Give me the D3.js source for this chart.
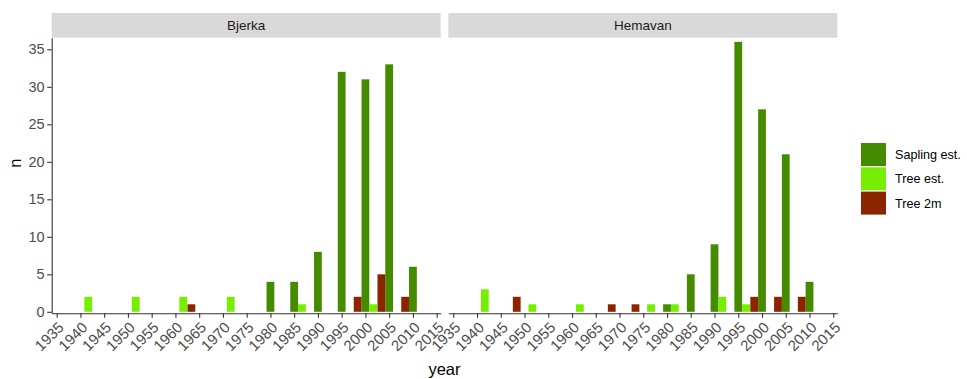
<!DOCTYPE html>
<html>
<head>
<meta charset="utf-8">
<script src="https://cdn.jsdelivr.net/npm/d3@7"></script>
<style>
  html, body { margin: 0; padding: 0; background: #fff; }
  svg { display: block; font-family: "Liberation Sans", Arial, sans-serif; }
</style>
</head>
<body>
<svg id="chart" width="967" height="379"></svg>
<script>
// Seedling / tree establishment counts per 5-year class, by site
const siteNames = ["Bjerka", "Hemavan"];
const seriesNames = ["Sapling est.", "Tree est.", "Tree 2m"];
const seriesColors = ["#458B00", "#76EE00", "#8B2500"];
const yearTicks = [1935, 1940, 1945, 1950, 1955, 1960, 1965, 1970, 1975, 1980,
                   1985, 1990, 1995, 2000, 2005, 2010, 2015];
const countTicks = [0, 5, 10, 15, 20, 25, 30, 35];

// [year class, n]
const bjerkaSapling = [[1980, 4], [1985, 4], [1990, 8], [1995, 32], [2000, 31], [2005, 33], [2010, 6]];
const bjerkaTreeEst = [[1940, 2], [1950, 2], [1960, 2], [1970, 2], [1985, 1], [2000, 1]];
const bjerkaTree2m = [[1965, 1], [2000, 2], [2005, 5], [2010, 2]];
const hemavanSapling = [[1980, 1], [1985, 5], [1990, 9], [1995, 36], [2000, 27], [2005, 21], [2010, 4]];
const hemavanTreeEst = [[1940, 3], [1950, 1], [1960, 1], [1975, 1], [1980, 1], [1990, 2], [1995, 1]];
const hemavanTree2m = [[1950, 2], [1970, 1], [1975, 1], [2000, 2], [2005, 2], [2010, 2]];

const siteSeries = [
  [bjerkaSapling, bjerkaTreeEst, bjerkaTree2m],
  [hemavanSapling, hemavanTreeEst, hemavanTree2m]
];

// dodge slot of each series inside a year class (left, middle, right)
const dodgeSlot = { "Tree 2m": -1, "Sapling est.": 0, "Tree est.": 1 };
const barWidth = 1.64; // years

const svg = d3.select("#chart");

const panelW = 389;
const panelX = [51.7, 448.3];
const stripTop = 13, stripBottom = 37.7;
const panelBottom = 313.3;

const x = d3.scaleLinear().domain([1933.95, 2015.85]).range([0, panelW]);
const y = d3.scaleLinear().domain([-0.2, 36.55]).range([panelBottom, stripBottom]);
const color = d3.scaleOrdinal().domain(seriesNames).range(seriesColors);

siteNames.forEach((site, i) => {
  const g = svg.append("g").attr("transform", `translate(${panelX[i]},0)`);

  // facet strip
  g.append("rect")
    .attr("x", 0).attr("y", stripTop)
    .attr("width", panelW).attr("height", stripBottom - stripTop)
    .attr("fill", "#D9D9D9");
  g.append("text")
    .attr("x", panelW / 2).attr("y", (stripTop + stripBottom) / 2)
    .attr("dy", "0.35em")
    .attr("text-anchor", "middle")
    .attr("font-size", "13.5px")
    .attr("fill", "#1A1A1A")
    .text(site);

  // bars
  seriesNames.forEach((name, s) => {
    const off = dodgeSlot[name] * barWidth;
    g.append("g").selectAll("rect")
      .data(siteSeries[i][s])
      .join("rect")
      .attr("x", d => x(d[0] + off - barWidth / 2))
      .attr("width", d => x(d[0] + off + barWidth / 2) - x(d[0] + off - barWidth / 2))
      .attr("y", d => y(d[1]))
      .attr("height", d => y(0) - y(d[1]))
      .attr("fill", color(name));
  });

  // x axis
  const xAxis = g.append("g")
    .attr("transform", `translate(0,${panelBottom})`)
    .call(d3.axisBottom(x).tickValues(yearTicks).tickFormat(d3.format("d"))
      .tickSize(4.5).tickSizeOuter(0));
  xAxis.select(".domain").attr("stroke", "#333").attr("stroke-width", 1.1);
  xAxis.selectAll(".tick line").attr("stroke", "#333").attr("stroke-width", 1.1);
  xAxis.selectAll(".tick text")
    .attr("x", 0).attr("y", 0).attr("dy", "0.71em")
    .attr("text-anchor", "end")
    .attr("transform", "translate(0,7.5) rotate(-45)")
    .attr("font-size", "15px")
    .attr("font-family", "Liberation Sans, Arial, sans-serif")
    .attr("fill", "#4D4D4D");

  // y axis only on the first panel
  if (i === 0) {
    const yAxis = g.append("g")
      .call(d3.axisLeft(y).tickValues(countTicks).tickSize(4.5).tickSizeOuter(0).tickPadding(2.5));
    yAxis.select(".domain").attr("stroke", "#333").attr("stroke-width", 1.1);
    yAxis.selectAll(".tick line").attr("stroke", "#333").attr("stroke-width", 1.1);
    yAxis.selectAll(".tick text")
      .attr("font-size", "14.5px")
      .attr("font-family", "Liberation Sans, Arial, sans-serif")
      .attr("fill", "#4D4D4D");
  }
});

// axis titles
svg.append("text")
  .attr("transform", `translate(21,${(stripTop + panelBottom) / 2}) rotate(-90)`)
  .attr("text-anchor", "middle")
  .attr("font-size", "16.5px")
  .attr("fill", "#000")
  .text("n");
svg.append("text")
  .attr("x", (panelX[0] + panelX[1] + panelW) / 2)
  .attr("y", 375)
  .attr("text-anchor", "middle")
  .attr("font-size", "16.5px")
  .attr("fill", "#000")
  .text("year");

// legend
const legend = svg.append("g").attr("transform", "translate(861,143)");
seriesNames.forEach((name, k) => {
  const row = legend.append("g").attr("transform", `translate(0,${k * 24.3})`);
  row.append("rect")
    .attr("width", 25).attr("height", 23)
    .attr("fill", color(name));
  row.append("text")
    .attr("x", 34).attr("y", 11.5)
    .attr("dy", "0.35em")
    .attr("font-size", "12.6px")
    .attr("fill", "#000")
    .text(name);
});
</script>
</body>
</html>
